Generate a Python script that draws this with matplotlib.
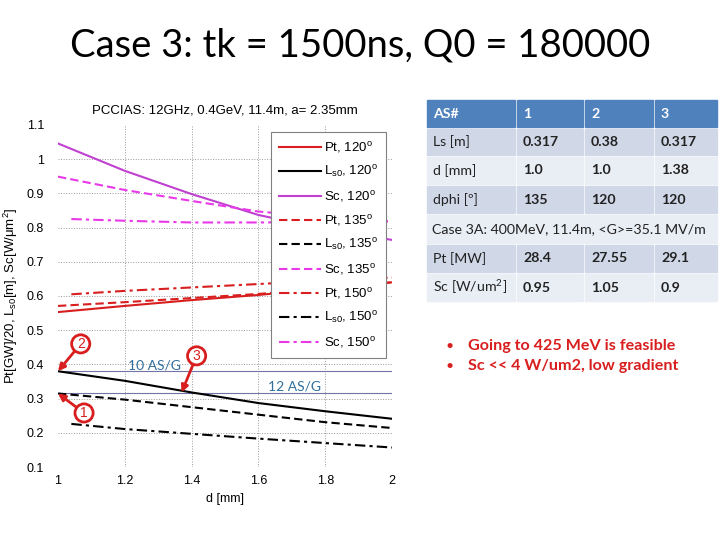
import matplotlib.pyplot as plt
from matplotlib.patches import Rectangle

plt.rcParams['font.family'] = ['Liberation Sans', 'DejaVu Sans']
plt.rcParams['mathtext.default'] = 'regular'

# curves (d in mm)
d = [1.0, 1.2, 1.4, 1.6, 1.8, 2.0]
d150 = [1.04, 1.2, 1.4, 1.6, 1.8, 2.0]
pt120 = [0.553, 0.571, 0.588, 0.603, 0.622, 0.640]
ls120 = [0.380, 0.352, 0.318, 0.287, 0.263, 0.241]
sc120 = [1.046, 0.966, 0.898, 0.837, 0.795, 0.764]
pt135 = [0.571, 0.582, 0.594, 0.606, 0.622, 0.640]
ls135 = [0.315, 0.297, 0.275, 0.253, 0.231, 0.214]
sc135 = [0.949, 0.910, 0.878, 0.847, 0.830, 0.818]
pt150 = [0.605, 0.615, 0.625, 0.635, 0.645, 0.654]
ls150 = [0.226, 0.211, 0.197, 0.183, 0.170, 0.157]
sc150 = [0.825, 0.820, 0.815, 0.815, 0.816, 0.818]

ref_levels = [0.380, 0.317]
ref_labels = ['10 AS/G', '12 AS/G']
ref_label_x = [1.29, 1.707]

# operating points marked with circled numbers
pts_label = ['2', '3', '1']
pts_d = [1.0, 1.37, 1.0]
pts_val = [0.380, 0.318, 0.315]
pts_text = [(1.068, 0.46), (1.415, 0.425), (1.078, 0.258)]

# table
tab_header = ['AS#', '1', '2', '3']
tab_rows = [['Ls [m]', '0.317', '0.38', '0.317'],
            ['d [mm]', '1.0', '1.0', '1.38'],
            ['dphi [º]', '135', '120', '120']]
tab_case = 'Case 3A: 400MeV, 11.4m, <G>=35.1 MV/m'
tab_rows2 = [['Pt [MW]', '28.4', '27.55', '29.1'],
             ['Sc [W/um$^2$]', '0.95', '1.05', '0.9']]
bullets = ['Going to 425 MeV is feasible', 'Sc << 4 W/um2, low gradient']

red = '#d81e1e'
purple = '#c040d0'
magenta = '#e838e8'

fig = plt.figure(figsize=(7.2, 5.4), dpi=100)

# slide layer in pixel coordinates
slide = fig.add_axes([0, 0, 1, 1])
slide.set_xlim(0, 720)
slide.set_ylim(540, 0)
slide.axis('off')

slide.text(360, 46, 'Case 3: tk = 1500ns, Q0 = 180000', fontsize=27.5,
           family='Lato', ha='center', va='center')

col_x = [427, 517, 585, 655, 719]
row_y = [100, 129, 157, 186, 215, 245, 274, 303]
txt = dict(family='Lato', fontsize=10.2, va='center', color='#222222')
for j, h in enumerate(tab_header):
    slide.add_patch(Rectangle((col_x[j], row_y[0]), col_x[j + 1] - col_x[j] - 2,
                              row_y[1] - row_y[0] - 2, color='#4f81bd'))
    slide.text(col_x[j] + 6, (row_y[0] + row_y[1] - 2) / 2, h, family='Lato',
               fontsize=10.2, va='center', color='white', weight='bold')
body = tab_rows + [None] + tab_rows2
for i, row in enumerate(body):
    y0, y1 = row_y[i + 1], row_y[i + 2]
    fc = '#d0d8e8' if i % 2 == 0 else '#e9edf4'
    if row is None:
        slide.add_patch(Rectangle((col_x[0], y0), col_x[-1] - col_x[0] - 2, y1 - y0 - 2, color=fc))
        slide.text(col_x[0] + 5, (y0 + y1 - 2) / 2, tab_case, **txt)
        continue
    for j, s in enumerate(row):
        slide.add_patch(Rectangle((col_x[j], y0), col_x[j + 1] - col_x[j] - 2, y1 - y0 - 2, color=fc))
        slide.text(col_x[j] + 6, (y0 + y1 - 2) / 2, s,
                   weight='normal' if j == 0 else 'bold', **txt)

for k, b in enumerate(bullets):
    slide.text(450, 346 + 20 * k, '•', family='Lato', fontsize=10, color=red,
               ha='center', va='center')
    slide.text(468, 346 + 20 * k, b, family='Lato', fontsize=11.6, color=red,
               weight='bold', va='center')

# the plot
ax = fig.add_axes([58 / 720, 73 / 540, 334 / 720, 342 / 540])
ax.patch.set_alpha(0)
for s in ax.spines.values():
    s.set_visible(False)

for v in [1.2, 1.4, 1.6, 1.8]:
    ax.axvline(v, ls=':', lw=0.7, color='#999999', zorder=0)
for v in [0.2, 0.3, 0.4, 0.5, 0.6, 0.7, 0.8, 0.9, 1.0]:
    ax.axhline(v, ls=':', lw=0.7, color='#999999', zorder=0)

for lvl in ref_levels:
    ax.axhline(lvl, color='#7373a8', lw=0.8, zorder=1)
for lx, lvl, lab in zip(ref_label_x, ref_levels, ref_labels):
    ax.text(lx, lvl + 0.018, lab, family='Lato', fontsize=10, color='#2f6e9c',
            ha='center', va='center')

lw = 1.5
dash = (0, (4, 2))
dashdot = (0, (5, 2, 1.5, 2))
ax.plot(d, pt120, '-', color=red, lw=lw, label='Pt, 120$^o$')
ax.plot(d, ls120, '-', color='black', lw=lw, label='L$_{s0}$, 120$^o$')
ax.plot(d, sc120, '-', color=purple, lw=lw, label='Sc, 120$^o$')
ax.plot(d, pt135, ls=dash, color=red, lw=lw, label='Pt, 135$^o$')
ax.plot(d, ls135, ls=dash, color='black', lw=lw, label='L$_{s0}$, 135$^o$')
ax.plot(d, sc135, ls=dash, color=magenta, lw=lw, label='Sc, 135$^o$')
ax.plot(d150, pt150, ls=dashdot, color=red, lw=lw, label='Pt, 150$^o$')
ax.plot(d150, ls150, ls=dashdot, color='black', lw=lw, label='L$_{s0}$, 150$^o$')
ax.plot(d150, sc150, ls=dashdot, color=magenta, lw=lw, label='Sc, 150$^o$')

for lab, x, y, (tx, ty) in zip(pts_label, pts_d, pts_val, pts_text):
    ax.annotate(lab, xy=(x, y), xytext=(tx, ty), fontsize=10, color=red,
                ha='center', va='center', annotation_clip=False, zorder=6,
                bbox=dict(boxstyle='circle,pad=0.15', fc='white', ec=red, lw=2),
                arrowprops=dict(arrowstyle='-|>', color=red, lw=2,
                                mutation_scale=10, shrinkA=0, shrinkB=0))

ax.set_xlim(1, 2)
ax.set_ylim(0.1, 1.1)
ax.set_xticks([1, 1.2, 1.4, 1.6, 1.8, 2])
ax.set_xticklabels(['1', '1.2', '1.4', '1.6', '1.8', '2'])
ax.set_yticks([0.1, 0.2, 0.3, 0.4, 0.5, 0.6, 0.7, 0.8, 0.9, 1.0, 1.1])
ax.set_yticklabels(['0.1', '0.2', '0.3', '0.4', '0.5', '0.6', '0.7', '0.8', '0.9', '1', '1.1'])
ax.tick_params(length=0, labelsize=9)
ax.tick_params(axis='y', pad=10)
ax.tick_params(axis='x', pad=6)
ax.set_xlabel('d [mm]', fontsize=9, labelpad=4)
ax.set_ylabel('Pt[GW]/20, L$_{s0}$[m], Sc[W/$\\mu$m$^2$]', fontsize=9.5, labelpad=5)
ax.set_title('PCCIAS: 12GHz, 0.4GeV, 11.4m, a= 2.35mm', fontsize=9.5, pad=8)

leg = ax.legend(loc='upper right', bbox_to_anchor=(0.982, 0.98), fontsize=9.5,
                fancybox=False, framealpha=1, edgecolor='#808080',
                handlelength=3.2, labelspacing=0.68, borderpad=0.6,
                handletextpad=0.2, borderaxespad=0)
leg.get_frame().set_linewidth(0.8)
leg.set_zorder(5)

fig.savefig('out.png', dpi=100)
